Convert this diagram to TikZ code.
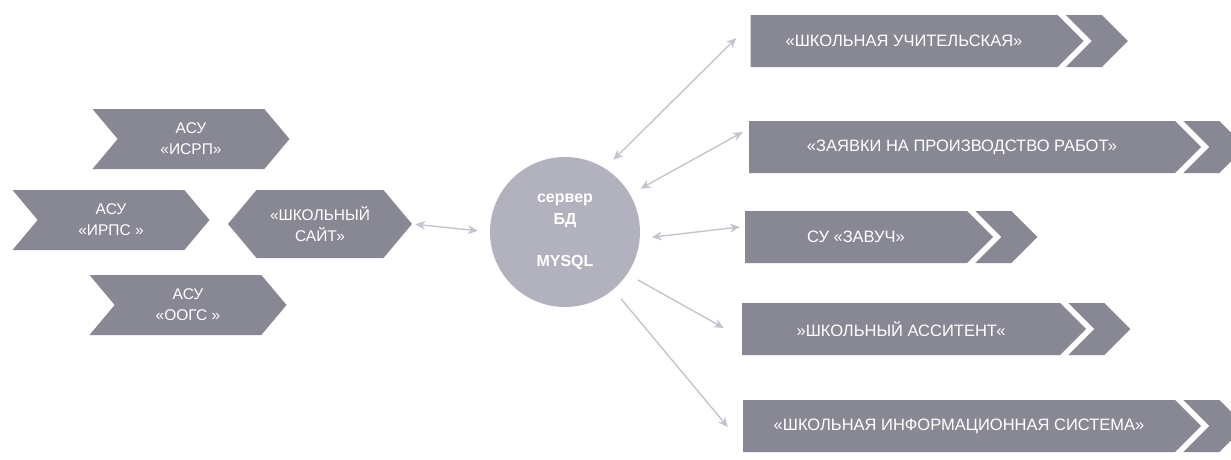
\documentclass[tikz,border=0pt]{standalone}
\usepackage{fontspec}
\setmainfont{Liberation Sans}
\usetikzlibrary{shapes.symbols,arrows.meta,calc}

\definecolor{boxgray}{RGB}{136,136,148}
\definecolor{dbgray}{RGB}{178,178,190}
\definecolor{arrgray}{RGB}{196,196,206}

\tikzset{
  asu/.style={signal, signal from=west, signal to=east, signal pointer angle=100,
    fill=boxgray, text=white, minimum width=197pt, minimum height=60pt,
    inner sep=0pt, align=center, font=\fontsize{15.5}{21}\selectfont},
  sitebox/.style={asu, signal from=nowhere, signal to=west and east},
  modbox/.style={signal, signal to=east, signal pointer angle=90, fill=boxgray,
    text=white, minimum height=52pt, inner sep=0pt, font=\fontsize{16.5}{20}\selectfont},
  modtail/.style={signal, signal from=west, signal to=east, signal pointer angle=90,
    fill=boxgray, minimum width=62pt, minimum height=52pt, inner sep=0pt},
  link/.style={arrgray, line width=1.4pt,
    {Stealth[length=10pt,width=9pt]}-{Stealth[length=10pt,width=9pt]}},
  link1/.style={arrgray, line width=1.4pt, -{Stealth[length=10pt,width=9pt]}},
}

\begin{document}
\begin{tikzpicture}[x=1pt, y=-1pt]
  \useasboundingbox (0,0) rectangle (1231,459);

  % АСУ слева
  \node[asu] (isrp) at (191,139) {АСУ\\«ИСРП»};
  \node[asu] (irps) at (111,220) {АСУ\\«ИРПС »};
  \node[asu] (oogs) at (188,305) {АСУ\\«ООГС »};
  \node[sitebox, minimum width=184pt, minimum height=68pt] (site) at (320,224) {«ШКОЛЬНЫЙ\\САЙТ»};

  % сервер
  \node[circle, fill=dbgray, minimum size=150pt, text=white, align=center,
    font=\bfseries\fontsize{16}{22}\selectfont] (db) at (565,232) {сервер\\БД\\[20pt]MYSQL};

  % системы справа
  \node[modbox, minimum width=333pt] (b1) at (904,41) {«ШКОЛЬНАЯ УЧИТЕЛЬСКАЯ»};
  \node[modbox, minimum width=452pt] (b2) at (962,147) {«ЗАЯВКИ НА ПРОИЗВОДСТВО РАБОТ»};
  \node[modbox, minimum width=248pt] (b3) at (856,237) {СУ «ЗАВУЧ»};
  \node[modbox, minimum width=344pt] (b4) at (901,329) {»ШКОЛЬНЫЙ АССИТЕНТ«};
  \node[modbox, minimum width=458pt] (b5) at (959,426) {«ШКОЛЬНАЯ ИНФОРМАЦИОННАЯ СИСТЕМА»};

  \node[modtail] (b1t) at ($(b1.east)+(13,0)$) {};
  \node[modtail] (b2t) at ($(b2.east)+(13,0)$) {};
  \node[modtail] (b3t) at ($(b3.east)+(13,0)$) {};
  \node[modtail] (b4t) at ($(b4.east)+(13,0)$) {};
  \node[modtail] (b5t) at ($(b5.east)+(13,0)$) {};

  % связи
  \draw[link, shorten <=3pt, shorten >=12pt] (site.east) -- (db.west);
  \draw[link, shorten <=12pt] (db.58) -- ($(b1.west)+(-14,-3)$);
  \draw[link, shorten <=12pt] (db.30) -- ($(b2.west)+(-6,-15)$);
  \draw[link, shorten <=12pt] (db.-5) -- ($(b3.west)+(-5,-10)$);
  \draw[link1, shorten <=12pt] (db.-34) -- ($(b4.west)+(-18,-1)$);
  \draw[link1, shorten <=12pt] (db.-50) -- ($(b5.west)+(-15,1)$);
\end{tikzpicture}
\end{document}
